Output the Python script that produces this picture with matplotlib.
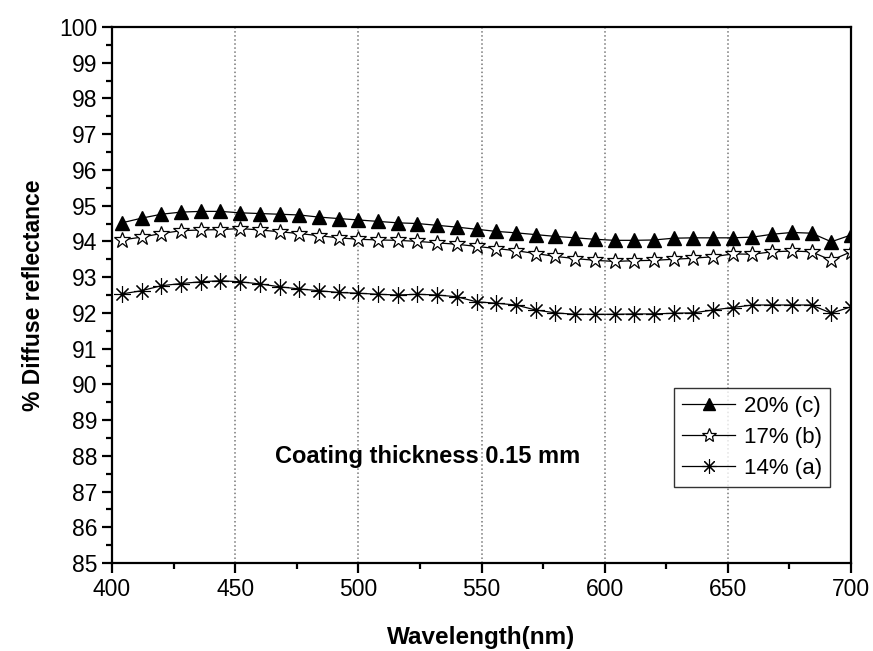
import matplotlib
matplotlib.use("Agg")
import matplotlib.pyplot as plt
from matplotlib.ticker import MultipleLocator
import numpy as np

plt.rcParams['font.family'] = ['Liberation Sans', 'DejaVu Sans']

wavelength = [404, 412, 420, 428, 436, 444, 452, 460, 468, 476, 484, 492, 500,
              508, 516, 524, 532, 540, 548, 556, 564, 572, 580, 588, 596, 604,
              612, 620, 628, 636, 644, 652, 660, 668, 676, 684, 692, 700]

refl_20 = [94.52, 94.65, 94.76, 94.82, 94.84, 94.84, 94.80, 94.78, 94.76, 94.74,
           94.68, 94.64, 94.60, 94.56, 94.52, 94.50, 94.45, 94.40, 94.34, 94.28,
           94.24, 94.19, 94.14, 94.10, 94.06, 94.03, 94.03, 94.04, 94.09, 94.10,
           94.10, 94.10, 94.12, 94.20, 94.25, 94.23, 93.99, 94.18]

refl_17 = [94.04, 94.12, 94.22, 94.30, 94.32, 94.33, 94.36, 94.32, 94.27, 94.22,
           94.16, 94.10, 94.06, 94.04, 94.03, 94.00, 93.96, 93.92, 93.86, 93.80,
           93.74, 93.66, 93.58, 93.52, 93.47, 93.44, 93.46, 93.47, 93.50, 93.53,
           93.57, 93.65, 93.64, 93.71, 93.73, 93.71, 93.47, 93.71]

refl_14 = [92.53, 92.62, 92.76, 92.82, 92.87, 92.90, 92.87, 92.81, 92.73, 92.67,
           92.62, 92.57, 92.55, 92.52, 92.50, 92.52, 92.50, 92.45, 92.31, 92.27,
           92.22, 92.08, 92.00, 91.96, 91.96, 91.96, 91.97, 91.97, 91.99, 92.00,
           92.08, 92.15, 92.22, 92.22, 92.22, 92.22, 91.99, 92.17]

series_labels = ['20% (c)', '17% (b)', '14% (a)']
annotation = 'Coating thickness 0.15 mm'
x_label = 'Wavelength(nm)'
y_label = '% Diffuse reflectance'

fig = plt.figure(figsize=(8.73, 6.51), dpi=100)
ax = fig.add_axes([0.1283, 0.1352, 0.8465, 0.8233])

ax.plot(wavelength, refl_20, color='black', lw=0.9, marker='^', ms=10,
        mfc='black', mec='black', label=series_labels[0])
ax.plot(wavelength, refl_17, color='black', lw=0.9, marker='*', ms=12,
        mfc='white', mec='black', mew=0.9, label=series_labels[1])
ax.plot(wavelength, refl_14, color='black', lw=0.9, marker=(8, 2, 0), ms=12,
        mfc='black', mec='black', mew=0.8, label=series_labels[2])

ax.set_xlim(400, 700)
ax.set_ylim(85, 100)
ax.xaxis.set_major_locator(MultipleLocator(50))
ax.xaxis.set_minor_locator(MultipleLocator(25))
ax.yaxis.set_major_locator(MultipleLocator(1))
ax.yaxis.set_minor_locator(MultipleLocator(0.5))

ax.grid(axis='x', which='major', color='#777777', linestyle=':', linewidth=1.1)

for s in ax.spines.values():
    s.set_linewidth(1.6)

ax.tick_params(axis='both', which='major', direction='out', length=7, width=1.6,
               labelsize=16.5, top=False, right=False)
ax.tick_params(axis='both', which='minor', direction='out', length=4, width=1.6,
               top=False, right=False)

ax.set_xlabel(x_label, fontsize=17.5, fontweight='bold', labelpad=18)
ax.set_ylabel(y_label, fontsize=16.5, fontweight='bold', labelpad=10)

ax.text(528, 87.97, annotation, fontsize=17, fontweight='bold',
        ha='center', va='center')

leg = ax.legend(loc='upper right', bbox_to_anchor=(0.9716, 0.3265),
                borderaxespad=0, fontsize=16, fancybox=False, frameon=True,
                edgecolor='black', handlelength=2.4, handletextpad=0.4,
                labelspacing=0.45, borderpad=0.35, markerscale=0.85)
leg.get_frame().set_linewidth(1.0)

fig.savefig('out.png', dpi=100)
